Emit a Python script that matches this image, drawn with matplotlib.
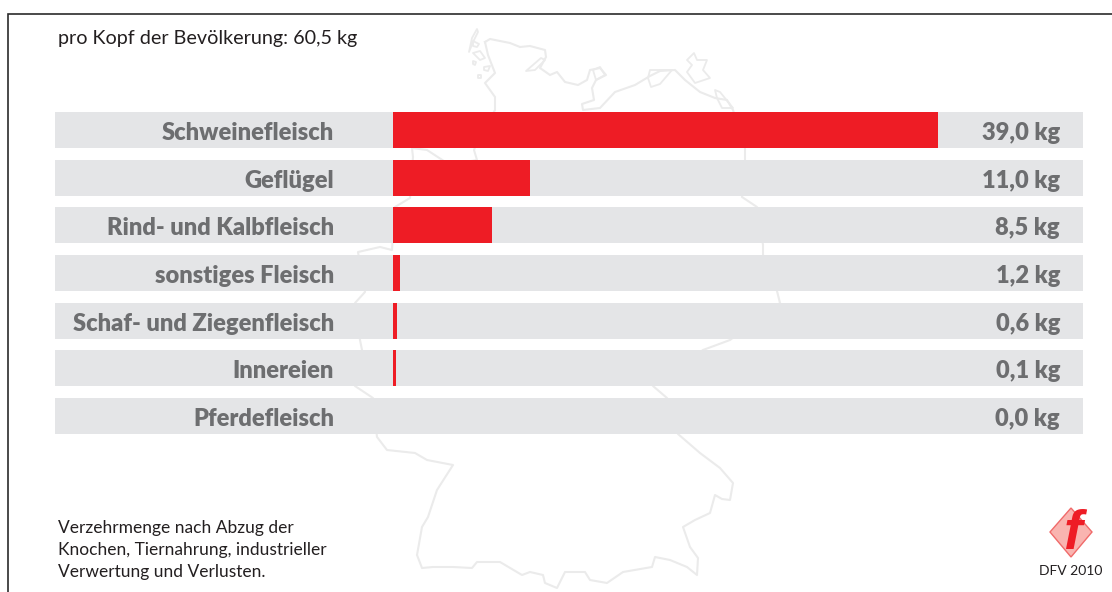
"""Fleischverzehr pro Kopf: Balken auf Deutschlandkarte."""
import matplotlib
matplotlib.use("Agg")
import matplotlib.pyplot as plt
from matplotlib.patches import Polygon

plt.rcParams["font.family"] = ["Lato", "DejaVu Sans"]

categories = ["Schweinefleisch", "Geflügel", "Rind- und Kalbfleisch", "sonstiges Fleisch",
              "Schaf- und Ziegenfleisch", "Innereien", "Pferdefleisch"]
value_labels = ["39,0 kg", "11,0 kg", "8,5 kg", "1,2 kg", "0,6 kg", "0,1 kg", "0,0 kg"]
# Balkenlaengen wie im Bild gemessen (nicht proportional zu den Beschriftungen)
bar_lengths = [39.0, 9.8, 7.1, 0.5, 0.29, 0.2, 0.0]

title = "pro Kopf der Bevölkerung: 60,5 kg"
note = ["Verzehrmenge nach Abzug der", "Knochen, Tiernahrung, industrieller", "Verwertung und Verlusten."]
source = "DFV 2010"

W, H = 1112, 592
PX_PER_KG = 545 / 39.0
X0 = 393
ROW0, ROW_STEP = 130, 47.65
GREY = "#e4e5e7"
RED = "#ee1c25"
TXT = "#6d6e70"
DARK = "#231f20"
MAP = "#ebebeb"

# Umriss (Pixel im Bild), Teile hinter den Balken sind grob
outline = [(485, 42), (490, 39), (510, 43), (520, 47), (530, 46), (545, 50), (546, 57), (540, 68),
           (550, 75), (557, 72), (565, 82), (578, 85), (587, 80), (590, 70), (600, 68), (606, 75),
           (596, 80), (592, 88), (594, 100), (582, 104), (583, 110), (600, 108), (615, 92), (635, 85),
           (650, 76), (660, 71), (675, 70), (685, 80), (700, 92), (715, 98), (727, 100), (733, 110),
           (745, 148), (745, 160), (742, 197), (757, 207), (763, 245), (763, 255), (777, 291), (780, 303),
           (730, 340), (703, 350), (653, 386), (667, 398), (678, 434), (700, 453), (720, 468), (733, 483),
           (730, 500), (722, 499), (715, 495), (710, 513), (695, 520), (683, 527), (690, 547), (698, 558),
           (697, 575), (687, 567), (670, 560), (655, 557), (652, 567), (623, 572), (607, 583), (590, 580),
           (585, 572), (565, 572), (557, 588), (545, 583), (543, 575), (530, 572), (522, 575), (500, 562),
           (477, 562), (472, 568), (453, 567), (433, 567), (422, 568), (417, 555), (422, 527), (428, 517),
           (437, 490), (453, 465), (427, 460), (415, 453), (387, 450), (377, 437), (373, 398), (355, 386),
           (362, 350), (360, 340), (355, 303), (365, 292), (358, 252), (380, 247), (392, 250), (395, 207),
           (410, 198), (413, 157), (412, 148), (427, 150), (450, 165), (477, 160), (474, 150), (478, 140),
           (495, 110), (495, 97), (485, 83), (495, 73), (488, 55), (485, 42)]
islands = [[(477, 29), (472, 38), (469, 52), (473, 42), (478, 32)],
           [(473, 41), (479, 44), (477, 47), (473, 46)],
           [(473, 53), (480, 51), (485, 58), (480, 60)],
           [(473, 61), (476, 62), (475, 65), (473, 64)],
           [(484, 67), (490, 66), (488, 71), (484, 70)],
           [(478, 75), (481, 75), (481, 78), (478, 78)],
           [(526, 71), (541, 58), (545, 60), (535, 70)],
           [(650, 70), (672, 70), (660, 84), (651, 87), (648, 78)],
           [(687, 60), (694, 53), (697, 60), (707, 60), (703, 70), (710, 78), (695, 83), (687, 72), (692, 65)],
           [(715, 90), (720, 92), (733, 108), (722, 108), (717, 98)],
           [(593, 70), (600, 67), (605, 75), (596, 80)]]

fig = plt.figure(figsize=(W / 100, H / 100), dpi=100, facecolor="white")

bg = fig.add_axes([0, 0, 1, 1])
bg.set_xlim(0, W); bg.set_ylim(H, 0); bg.axis("off")
bg.plot(*zip(*outline), color=MAP, lw=1.5, solid_joinstyle="round")
for isl in islands:
    bg.add_patch(Polygon(isl, closed=True, fill=False, ec=MAP, lw=1.3, joinstyle="round"))
bg.plot([8, 8, W], [H, 14, 14], color="#2b2b2b", lw=1.2, solid_joinstyle="miter")

ax = fig.add_axes([0, 0, 1, 1])
ax.patch.set_alpha(0)
ax.set_xlim(-X0 / PX_PER_KG, (W - X0) / PX_PER_KG)
ax.set_ylim((H - ROW0) / ROW_STEP, -ROW0 / ROW_STEP)
ax.axis("off")
rows = range(len(categories))
grey_left = (55 - X0) / PX_PER_KG
grey_width = (1083 - 55) / PX_PER_KG
ax.barh(rows, grey_width, left=grey_left, height=36 / ROW_STEP, color=GREY, lw=0)
ax.barh(rows, bar_lengths, height=36 / ROW_STEP, color=RED, lw=0)

for i in rows:
    ax.text((334 - X0) / PX_PER_KG, i + 0.02, categories[i], ha="right", va="center_baseline",
            fontsize=17, fontweight="heavy", color=TXT)
    ax.text((1060 - X0) / PX_PER_KG, i + 0.02, value_labels[i], ha="right", va="center_baseline",
            fontsize=17, fontweight="heavy", color=TXT)

bg.text(58, 37, title, fontsize=14.2, color=DARK, ha="left", va="center_baseline")
for y, line in zip([526, 548, 570], note):
    bg.text(58, y, line, fontsize=12.5, color=DARK, ha="left", va="center_baseline")

# Logo
bg.add_patch(Polygon([(1071, 508), (1092, 532), (1071, 557), (1050, 532)], closed=True,
                     fc="#f9b4b0", ec="#f06a6a", lw=1, zorder=3))
bg.text(1073, 535, "f", fontsize=40, color=RED, ha="center", va="center", zorder=4,
        family="Liberation Sans", fontweight="bold", fontstyle="italic")
bg.text(1071, 570, source, fontsize=10, color=DARK, ha="center", va="center_baseline", zorder=4)
bg.set_zorder(0); ax.set_zorder(1)

fig.savefig("out.png", dpi=100)
